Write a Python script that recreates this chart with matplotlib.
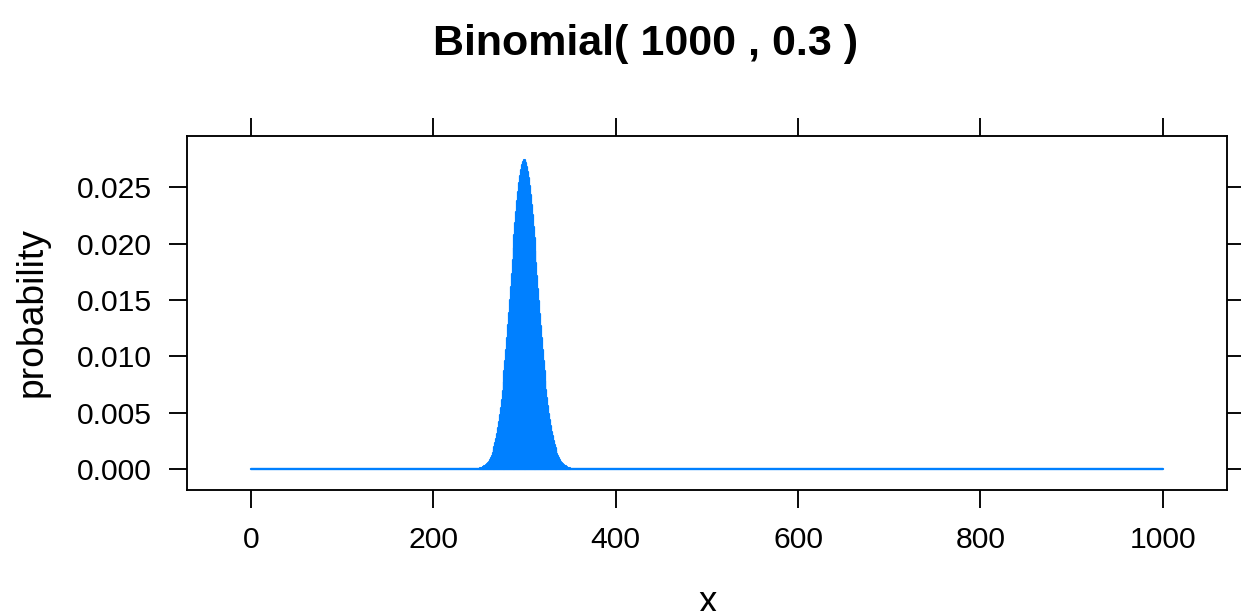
import numpy as np
import matplotlib
matplotlib.use("Agg")
import matplotlib.pyplot as plt

# ---- data ----
title = "Binomial( 1000 , 0.3 )"
x_label = "x"
y_label = "probability"
support = np.arange(0, 1001)           # possible outcomes 0..1000
peak_start = 240                       # first outcome with visible probability
peak_probs = [
    0.00001, 0.00001, 0.00001, 0.00001, 0.00002, 0.00002, 0.00003, 0.00003, 0.00004, 0.00005,
    0.00006, 0.00008, 0.00010, 0.00012, 0.00016, 0.00020, 0.00025, 0.00031, 0.00038, 0.00047,
    0.00057, 0.00069, 0.00083, 0.00100, 0.00120, 0.00142, 0.00169, 0.00199, 0.00233, 0.00271,
    0.00315, 0.00364, 0.00418, 0.00478, 0.00544, 0.00616, 0.00694, 0.00777, 0.00867, 0.00961,
    0.01061, 0.01166, 0.01275, 0.01387, 0.01502, 0.01618, 0.01735, 0.01851, 0.01965, 0.02075,
    0.02181, 0.02281, 0.02374, 0.02459, 0.02534, 0.02599, 0.02653, 0.02695, 0.02724, 0.02741,
    0.02745,
    0.02736, 0.02715, 0.02681, 0.02635, 0.02578, 0.02510, 0.02432, 0.02345, 0.02251, 0.02151,
    0.02046, 0.01937, 0.01826, 0.01714, 0.01600, 0.01488, 0.01377, 0.01268, 0.01163, 0.01061,
    0.00964, 0.00872, 0.00785, 0.00704, 0.00629, 0.00559, 0.00494, 0.00436, 0.00383, 0.00334,
    0.00291, 0.00252, 0.00217, 0.00187, 0.00160, 0.00136, 0.00115, 0.00097, 0.00082, 0.00069,
    0.00057, 0.00048, 0.00039, 0.00032, 0.00027, 0.00022, 0.00018, 0.00014, 0.00012, 0.00009,
    0.00007, 0.00006, 0.00005, 0.00004, 0.00003, 0.00002, 0.00002, 0.00001, 0.00001, 0.00001,
]
x_ticks = [0, 200, 400, 600, 800, 1000]
y_ticks = [0.000, 0.005, 0.010, 0.015, 0.020, 0.025]
y_tick_labels = ["0.000", "0.005", "0.010", "0.015", "0.020", "0.025"]

probs = np.zeros(len(support))
probs[peak_start:peak_start + len(peak_probs)] = peak_probs

# ---- figure ----
plt.rcParams['font.family'] = ['Liberation Sans', 'DejaVu Sans']
W, H = 1241, 611
fig = plt.figure(figsize=(W / 100, H / 100), dpi=100)
ax = fig.add_axes([187.3 / W, 1 - 490 / H, 1040 / W, (490 - 135.7) / H])

blue = "#0080ff"
ax.vlines(support, 0, probs, colors=blue, linewidth=1.6, capstyle="round")
ax.plot(support, np.zeros(len(support)), color=blue, linewidth=1.7, solid_capstyle="round")

ax.set_xlim(-69.9, 1070.9)
ax.set_ylim(-0.001835, 0.02957)
ax.set_xticks(x_ticks)
ax.set_yticks(y_ticks)
ax.set_yticklabels(y_tick_labels)
ax.tick_params(axis="both", direction="out", length=12.96, width=1.35,
               labelsize=21.7, top=True, right=True, labeltop=False, labelright=False,
               color="black")
ax.tick_params(axis="x", pad=12.6)
ax.tick_params(axis="y", pad=12.5)
for s in ax.spines.values():
    s.set_linewidth(1.35)

fig.text(646 / W, 1 - 55 / H, title, ha="center", va="baseline",
         fontsize=31, fontweight="bold")
fig.text(32 / W, 1 - 312.5 / H, y_label, ha="center", va="center",
         rotation=90, fontsize=26.8)
fig.text(707.7 / W, 1 - 611.5 / H, x_label, ha="center", va="baseline", fontsize=26.5)

fig.savefig("out.png", dpi=100)
